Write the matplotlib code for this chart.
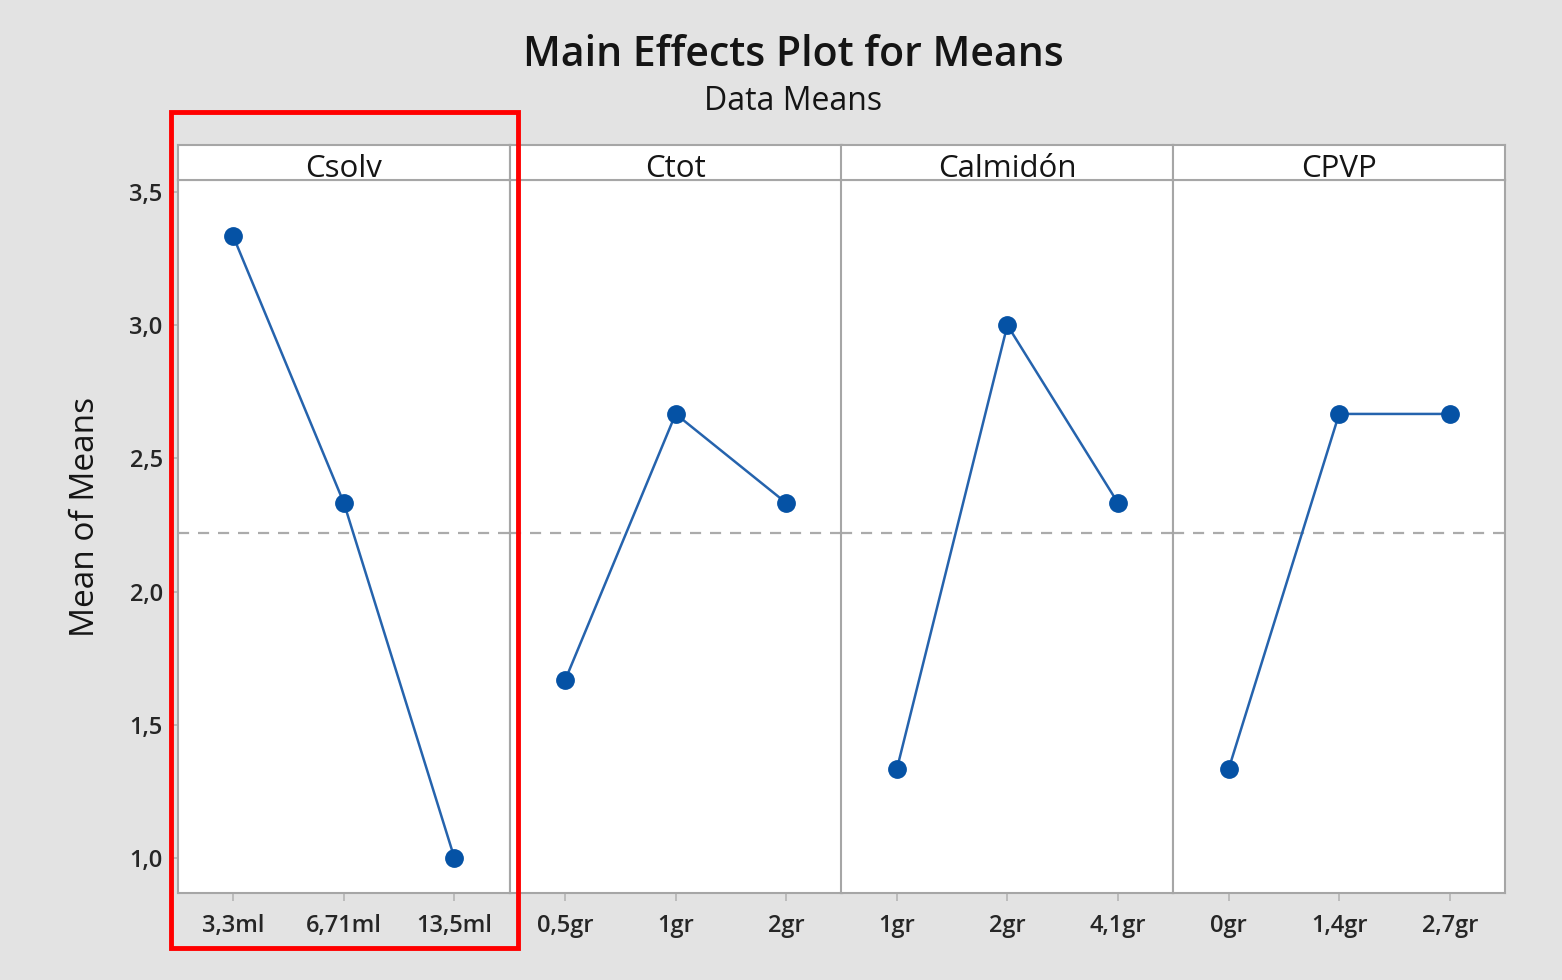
import matplotlib.pyplot as plt
from matplotlib.patches import Rectangle
from matplotlib.ticker import FuncFormatter

plt.rcParams['font.family'] = ['Open Sans', 'DejaVu Sans']

# Factor names and levels
factors = ['Csolv', 'Ctot', 'Calmidón', 'CPVP']
levels = [
    ['3,3ml', '6,71ml', '13,5ml'],
    ['0,5gr', '1gr', '2gr'],
    ['1gr', '2gr', '4,1gr'],
    ['0gr', '1,4gr', '2,7gr'],
]
# Mean response at each level
means = [
    [3.333, 2.333, 1.0],
    [1.667, 2.667, 2.333],
    [1.333, 3.0, 2.333],
    [1.333, 2.667, 2.667],
]
grand_mean = 2.222

W, H = 1562, 980
fig = plt.figure(figsize=(W / 100, H / 100), dpi=100, facecolor='#e3e3e3')

x0, x1 = 178, 1505
top_hdr, top_plot, bottom = 145, 180, 893
pw = (x1 - x0) / len(factors)
edge = '#a6a6a6'
blue = '#0552a5'
txt = '#151515'

ymin, ymax = 0.869, 3.545

for i, (name, labs, vals) in enumerate(zip(factors, levels, means)):
    left = x0 + i * pw
    ax = fig.add_axes([left / W, 1 - bottom / H, pw / W, (bottom - top_plot) / H])
    ax.set_facecolor('white')
    xs = list(range(len(vals)))
    ax.axhline(grand_mean, color='#ababab', lw=1.6, ls=(0, (5, 4)), zorder=1)
    ax.plot(xs, vals, color='#2563ad', lw=1.8, zorder=2)
    ax.plot(xs, vals, ls='none', marker='o', ms=12.5,
            markerfacecolor=blue, markeredgecolor=blue, zorder=3)
    ax.set_xlim(-0.5, 2.5)
    ax.set_ylim(ymin, ymax)
    ax.set_xticks(xs)
    ax.set_xticklabels(labs, fontweight='semibold')
    ax.tick_params(axis='x', length=6, width=1.2, color='#b5b5b5',
                   labelsize=17, pad=9, labelcolor='#262626')
    for s in ax.spines.values():
        s.set_color(edge)
        s.set_linewidth(1.5)
    if i == 0:
        ax.set_yticks([1.0, 1.5, 2.0, 2.5, 3.0, 3.5])
        ax.yaxis.set_major_formatter(FuncFormatter(lambda v, p: f'{v:.1f}'.replace('.', ',')))
        ax.tick_params(axis='y', length=5, width=1.2, color='#b5b5b5',
                       labelsize=17, pad=6, labelcolor='#262626')
        for t in ax.get_yticklabels():
            t.set_fontweight('semibold')
        ax.set_ylabel('Mean of Means', fontsize=24, color=txt)
        ax.yaxis.set_label_coords(-76 / pw, (893 - 517) / (893 - 180))
    else:
        ax.set_yticks([])

    # header strip with the factor name
    hx = fig.add_axes([left / W, 1 - top_plot / H, pw / W, (top_plot - top_hdr) / H])
    hx.set_facecolor('white')
    hx.set_xticks([])
    hx.set_yticks([])
    for s in hx.spines.values():
        s.set_color(edge)
        s.set_linewidth(1.5)
    hx.text(0.5, 0.08, name, ha='center', va='baseline', fontsize=22.5,
            color=txt, transform=hx.transAxes)

fig.text(793 / W, 1 - 55 / H, 'Main Effects Plot for Means', ha='center', va='center',
         fontsize=29.5, fontweight='semibold', color=txt)
fig.text(793 / W, 1 - 101 / H, 'Data Means', ha='center', va='center',
         fontsize=23, color=txt)

# highlight box around the first factor
fig.patches.append(Rectangle((171 / W, 1 - 948 / H), (518 - 171) / W, (948 - 112) / H,
                             transform=fig.transFigure, fill=False,
                             edgecolor='#ff0000', lw=3.5, zorder=10))

fig.savefig('out.png', dpi=100, facecolor=fig.get_facecolor())
